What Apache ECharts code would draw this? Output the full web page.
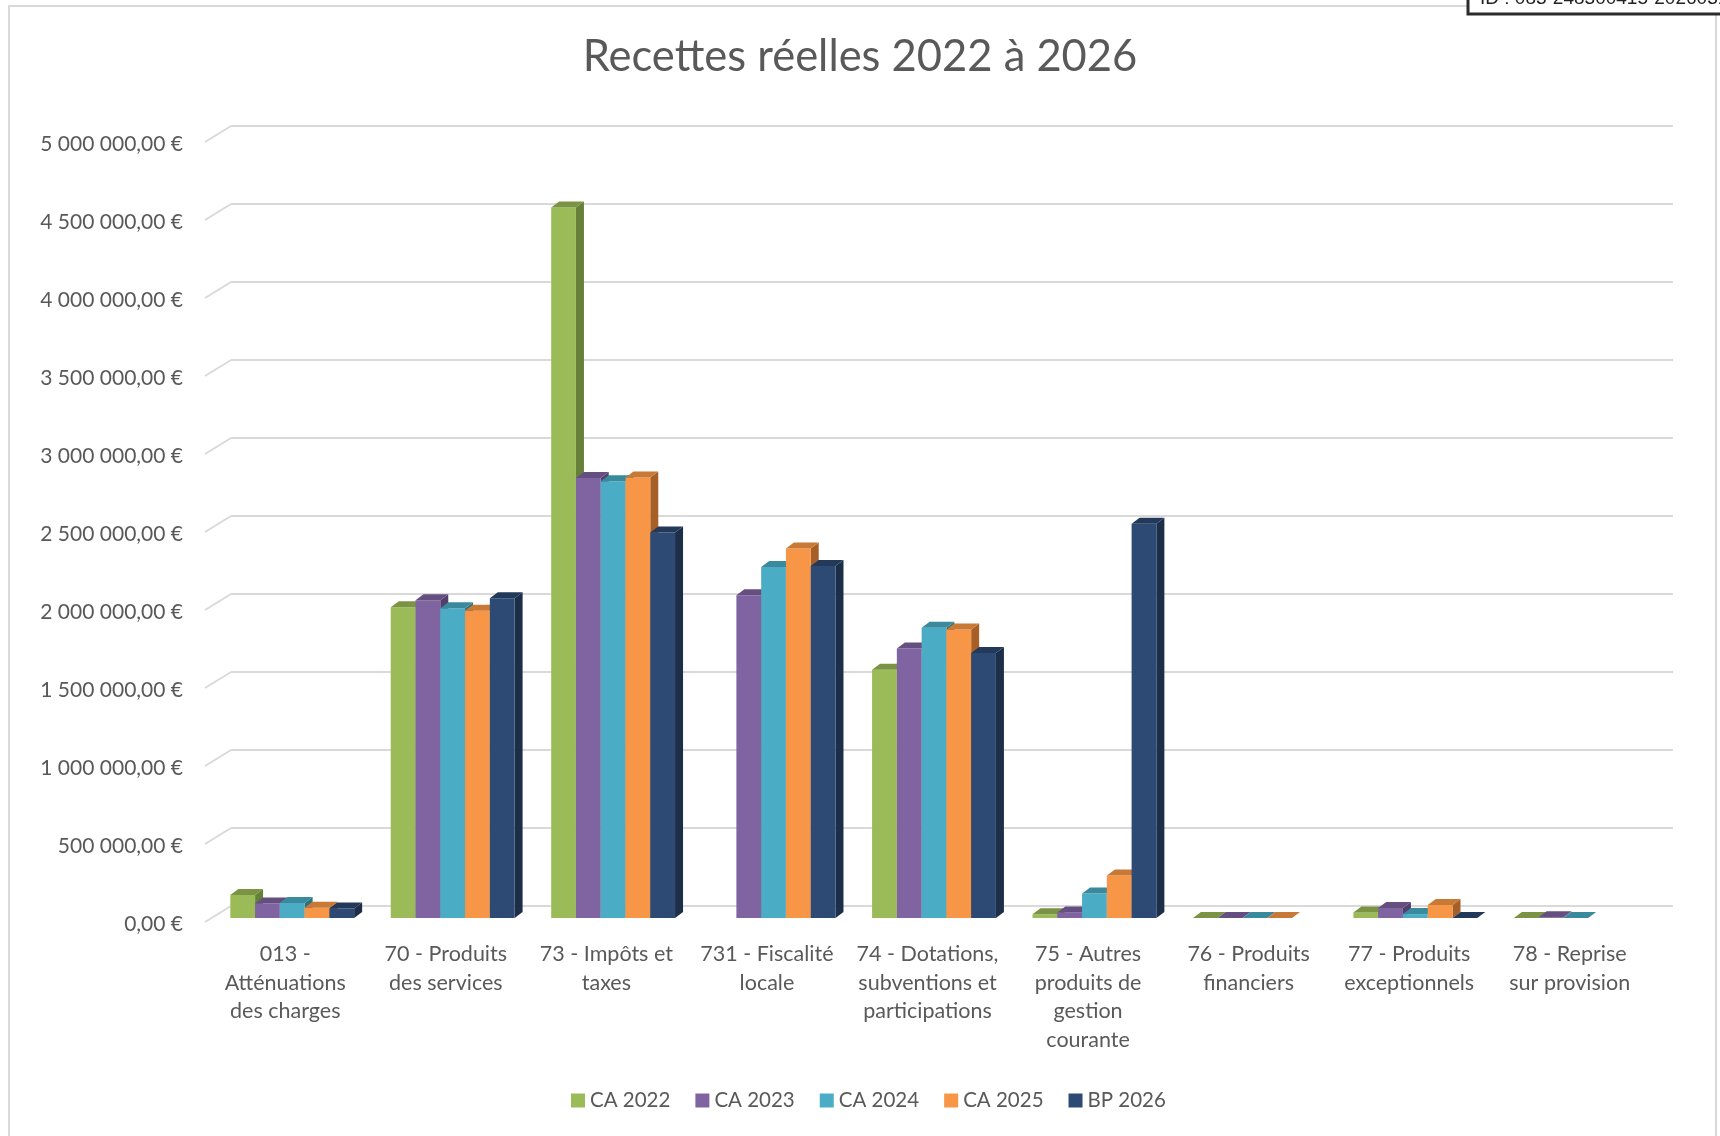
<!DOCTYPE html>
<html><head><meta charset="utf-8">
<script src="https://cdn.jsdelivr.net/npm/echarts@6/dist/echarts.min.js"></script>
<style>html,body{margin:0;padding:0;background:#fff}#c{width:1720px;height:1136px}</style>
</head><body><div id="c"></div>
<script>
// ---- data ----
const categories = [
  "013 -\nAtténuations\ndes charges",
  "70 - Produits\ndes services",
  "73 - Impôts et\ntaxes",
  "731 - Fiscalité\nlocale",
  "74 - Dotations,\nsubventions et\nparticipations",
  "75 - Autres\nproduits de\ngestion\ncourante",
  "76 - Produits\nfinanciers",
  "77 - Produits\nexceptionnels",
  "78 - Reprise\nsur provision"
];
const seriesNames = ["CA 2022", "CA 2023", "CA 2024", "CA 2025", "BP 2026"];
const ca2022 = [148000, 1992000, 4555000, null, 1591000, 24000, 0, 36000, 0];
const ca2023 = [93000, 2037000, 2821000, 2069000, 1728000, 36000, 0, 64000, 5000];
const ca2024 = [96000, 1986000, 2800000, 2250000, 1860000, 157000, 0, 25000, 0];
const ca2025 = [66000, 1970000, 2824000, 2368000, 1849000, 272000, 0, 83000, null];
const bp2026 = [61000, 2049000, 2471000, 2257000, 1698000, 2528000, null, 0, null];
const yTicks = [0, 500000, 1000000, 1500000, 2000000, 2500000, 3000000, 3500000, 4000000, 4500000, 5000000];
const chartTitle = "Recettes réelles 2022 à 2026";
const stampText = "ID : 083-248300415-20260319-";

// ---- styles ----
const FONT = "Lato, 'Noto Sans', sans-serif";
const COLORS = ["#9BBB59", "#8064A2", "#4BACC6", "#F79646", "#2C4A73"];
const TOPS   = ["#7A9443", "#654F80", "#3A8A9E", "#C97936", "#22395A"];
const SIDES  = ["#66803A", "#533F6B", "#2F7282", "#A65F27", "#1C2E48"];
const DX = 8, DY = 6;          // bar depth
const WALL_X = 26, WALL_Y = 16; // floor depth (front to back wall)
const GROUP = 0.772;

function fmt(v) {
  const s = String(Math.round(v)).replace(/\B(?=(\d{3})+(?!\d))/g, " ");
  return s + ",00 €";
}

function makeRender(k) {
  return function (params, api) {
    const v = api.value(1);
    if (v === null || v === undefined || isNaN(v)) return null;
    const cat = api.value(0);
    const p0 = api.coord([cat, 0]);
    const p1 = api.coord([cat, v]);
    const band = api.size([1, 0])[0];
    const w = band * GROUP / 5;
    const x = p0[0] - 2.5 * w + k * w;
    const y0 = p0[1], y1 = p1[1];
    return {
      type: 'group',
      children: [
        { type: 'polygon', shape: { points: [[x + w, y1], [x + w + DX, y1 - DY], [x + w + DX, y0 - DY], [x + w, y0]] }, style: { fill: SIDES[k] } },
        { type: 'rect', shape: { x: x, y: y1, width: w, height: y0 - y1 }, style: { fill: COLORS[k] } },
        { type: 'polygon', shape: { points: [[x, y1], [x + w, y1], [x + w + DX, y1 - DY], [x + DX, y1 - DY]] }, style: { fill: TOPS[k] } }
      ]
    };
  };
}

const allSeries = [ca2022, ca2023, ca2024, ca2025, bp2026];
const barSeries = allSeries.map((arr, k) => ({
  type: 'custom',
  name: seriesNames[k],
  xAxisIndex: 0, yAxisIndex: 0,
  itemStyle: { color: COLORS[k] },
  encode: { x: 0, y: 1 },
  z: 10 + k,
  clip: false,
  data: arr.map((v, i) => [i, v === null ? NaN : v]),
  renderItem: makeRender(k)
}));

const diagSeries = {
  type: 'custom',
  xAxisIndex: 1, yAxisIndex: 1,
  silent: true, z: 1,
  encode: { x: 0, y: 1 },
  data: yTicks.map(v => [0, v]),
  renderItem: function (params, api) {
    const q = api.coord([0, api.value(1)]);
    return { type: 'line', shape: { x1: q[0] - WALL_X, y1: q[1] + WALL_Y, x2: q[0], y2: q[1] }, style: { stroke: '#d9d9d9', lineWidth: 2 } };
  }
};

const chart = echarts.init(document.getElementById('c'));
chart.setOption({
  animation: false,
  backgroundColor: '#fff',
  title: {
    text: chartTitle, left: 'center', top: 30,
    textStyle: { fontFamily: FONT, fontSize: 43.5, fontWeight: 'normal', color: '#595959' }
  },
  legend: {
    data: seriesNames, left: 566, top: 1085,
    icon: 'rect', itemWidth: 14, itemHeight: 14, itemGap: 25,
    textStyle: { fontFamily: FONT, fontSize: 20.5, color: '#595959' }
  },
  grid: [
    { left: 212, right: 64, top: 138, bottom: 218 },   // bars (mid depth)
    { left: 231, right: 47, top: 126, bottom: 230 },   // back wall
    { left: 205, right: 70, top: 144, bottom: 212 }    // front edge (labels)
  ],
  xAxis: [
    { type: 'category', gridIndex: 0, data: categories, show: false },
    { type: 'value', gridIndex: 1, min: 0, max: 1, show: false },
    { type: 'category', gridIndex: 2, data: categories,
      axisLine: { show: false }, axisTick: { show: false },
      axisLabel: { interval: 0, margin: 16, fontFamily: FONT, fontSize: 21.5, lineHeight: 28.6, color: '#595959', align: 'center' } }
  ],
  yAxis: [
    { type: 'value', gridIndex: 0, min: 0, max: 5000000, interval: 500000, show: false },
    { type: 'value', gridIndex: 1, min: 0, max: 5000000, interval: 500000,
      axisLine: { show: false }, axisTick: { show: false }, axisLabel: { show: false },
      splitLine: { show: true, lineStyle: { color: '#d9d9d9', width: 2 } } },
    { type: 'value', gridIndex: 2, min: 0, max: 5000000, interval: 500000,
      axisLine: { show: false }, axisTick: { show: false }, splitLine: { show: false },
      axisLabel: { margin: 22, fontFamily: FONT, fontSize: 21, color: '#595959', formatter: fmt } }
  ],
  graphic: [
    { type: 'rect', z: -1, silent: true, shape: { x: 9, y: 6, width: 1707, height: 1200 }, style: { fill: 'none', stroke: '#d9d9d9', lineWidth: 2 } },
    { type: 'rect', z: 100, silent: true, shape: { x: 1468, y: -10, width: 270, height: 24 }, style: { fill: '#fff', stroke: '#2b2b2b', lineWidth: 3 } },
    { type: 'text', z: 101, silent: true, x: 1480, y: 8, style: { text: stampText, fontFamily: "'Liberation Sans', Arial, sans-serif", fontSize: 19, fill: '#222', verticalAlign: 'bottom' } }
  ],
  series: [diagSeries].concat(barSeries)
});
</script>
</body></html>
